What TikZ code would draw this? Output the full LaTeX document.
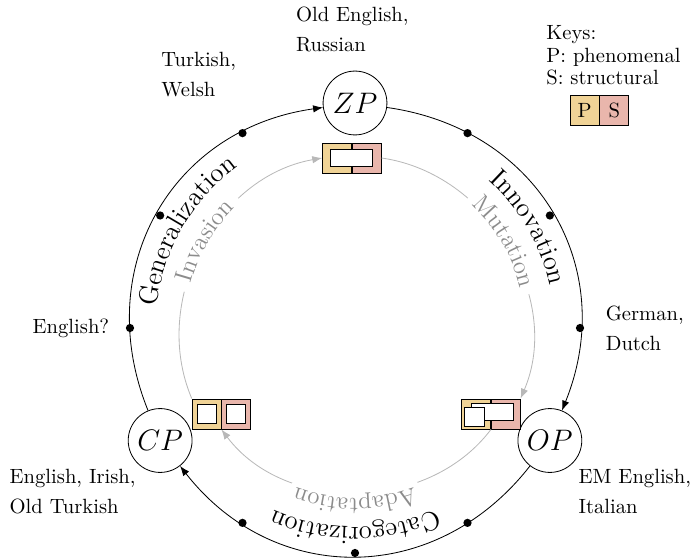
\documentclass[tikz,border=0pt]{standalone}
\usetikzlibrary{arrows.meta,decorations.text,positioning}
\definecolor{phencol}{RGB}{240,211,150}
\definecolor{struccol}{RGB}{233,182,172}

\begin{document}
\begin{tikzpicture}[
	x=0.4854pt, y=0.4854pt,
	phase/.style={circle, draw, minimum size=31pt, inner sep=0pt, font=\Large},
	bullet/.style={circle, fill, minimum size=4pt, inner sep=0pt},
	lang/.style={align=left, inner sep=0pt},
	half/.style={rectangle, draw, minimum width=14pt, minimum height=14.6pt, inner sep=0pt},
	pbox/.style={half, fill=phencol},
	sbox/.style={half, fill=struccol},
	hole/.style={rectangle, draw, fill=white, inner sep=0pt},
	outerflow/.style={-{Latex}, looseness=1.12},
	innerflow/.style={-{Latex}, draw=black!28},
	cutout/.style={draw=white, line width=7pt},
	outer label/.style={decorate, decoration={text along path, text align=center,
		text={|\fontsize{13}{15}\selectfont|#1}}},
	inner label/.style={decorate, decoration={text along path, text align=center,
		text color=black!45, text={|\large|#1}}}
]
	\useasboundingbox (-355,-231) rectangle (341,328);

	\node [phase] (ZP) at (90:225) {$ZP$};
	\node [phase] (OP) at (-30:225) {$OP$};
	\node [phase] (CP) at (210:225) {$CP$};

	\foreach \a in {0,30,60,120,150,180,240,270,300}
		\node [bullet] (d\a) at (\a:225) {};

	\draw [outerflow] (ZP) to[out=-8, in=68] (OP);
	\draw [outerflow] (OP) to[out=-128, in=-52] (CP);
	\draw [outerflow] (CP) to[out=112, in=188] (ZP);

	\path [outer label=Generalization] (210:199) arc[start angle=210, end angle=90, radius=199];
	\path [outer label=Innovation] (90:199) arc[start angle=90, end angle=-30, radius=199];
	\path [outer label=Categorization] (-30:199) arc[start angle=-30, end angle=-150, radius=199];

	\node [pbox] (tP) at (-18,170) {};
	\node [sbox, right=0pt of tP] (tS) {};
	\node [pbox] (lP) at (-148.4,-86) {};
	\node [sbox, right=0pt of lP] (lS) {};
	\node [pbox] (rP) at (121.1,-86) {};
	\node [sbox, right=0pt of rP] (rS) {};

	\node [hole, minimum width=20.4pt, minimum height=8.3pt] (tH) at (tP.east) {};
	\node [hole, minimum size=9.2pt] (lHp) at (lP) {};
	\node [hole, minimum size=9.2pt] (lHs) at (lS) {};
	\node [hole, minimum width=20.4pt, minimum height=8.3pt] (rHs) at ([shift={(1.5,2.5)}]rP.east) {};
	\node [hole, minimum width=9.7pt, minimum height=9.2pt] (rHp) at ([shift={(-2,-2.5)}]rP.center) {};

	\draw [innerflow] (lP.north west) to[out=113, in=190] (tP.west);
	\draw [innerflow] (tS.east) to[out=-8, in=67] (rS.north east);
	\draw [innerflow] (rS.south west) to[out=-127, in=-53] (lS.south west);

	\foreach \a/\w in {150/18, 30/19, 270/22}
		\draw [cutout] (\a+\w:171) arc[start angle=\a+\w, end angle=\a-\w, radius=171];

	\path [inner label=Invasion] (210:170) arc[start angle=210, end angle=90, radius=170];
	\path [inner label=Mutation] (90:170) arc[start angle=90, end angle=-30, radius=170];
	\path [inner label=Adaptation] (-30:170) arc[start angle=-30, end angle=-150, radius=170];

	\node [lang, above=8.7pt of ZP, xshift=-1.3pt] (zlang) {Old English,\\[2.5pt]Russian};
	\node [lang, anchor=west] (tlang) at (-194,253) {Turkish,\\[2.5pt]Welsh};
	\node [lang, left=7.7pt of d180] (elang) {English?};
	\node [lang, right=10.1pt of d0] (glang) {German,\\[2.5pt]Dutch};
	\node [lang, below left=2.6pt and 0.6pt of CP] (clang) {English, Irish,\\[2.5pt]Old Turkish};
	\node [lang, below right=2.6pt and 2.7pt of OP] (olang) {EM English,\\[2.5pt]Italian};

	\node [lang, anchor=north west] (keys) at (191,303) {Keys:\\[-1pt]P: phenomenal\\[-1pt]S: structural};
	\node [pbox] (kP) at (229.6,218) {P};
	\node [sbox, right=0pt of kP] (kS) {S};
\end{tikzpicture}
\end{document}
